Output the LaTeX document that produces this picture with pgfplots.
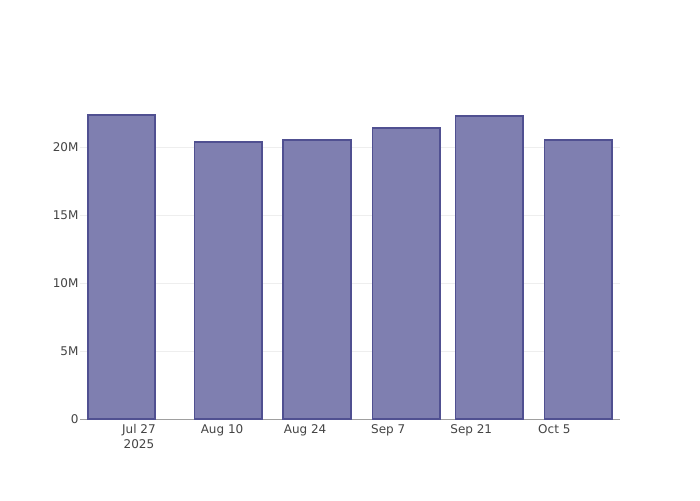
\documentclass[border=0pt]{standalone}
\usepackage{fontspec}
\setmainfont{DejaVu Sans}
\usepackage{pgfplots}
\pgfplotsset{compat=1.18}
\definecolor{barfill}{RGB}{127,127,176}
\definecolor{baredge}{RGB}{80,80,145}
\definecolor{axgray}{RGB}{160,160,160}
\definecolor{gridc}{RGB}{238,238,238}
\definecolor{txt}{RGB}{68,68,68}
\begin{document}
\begin{tikzpicture}[x=1pt,y=1pt]
\path[fill=white] (0,0) rectangle (700,500);
\begin{axis}[
  at={(80pt,80.7pt)}, anchor=south west,
  scale only axis, width=540pt, height=319.3pt,
  xmin=-9.94, xmax=81.07,
  ymin=0, ymax=23480000,
  axis x line*=bottom, axis y line*=left,
  x axis line style={draw=axgray, line width=1pt, -},
  y axis line style={draw=none},
  ytick={0,5000000,10000000,15000000,20000000},
  yticklabels={0,5M,10M,15M,20M},
  scaled y ticks=false,
  xtick={0,14,28,42,56,70},
  xticklabels={{Jul 27\\2025},Aug 10,Aug 24,Sep 7,Sep 21,Oct 5},
  xticklabel style={align=center, font=\fontsize{12}{15}\selectfont, text=txt, yshift=-2pt},
  yticklabel style={font=\fontsize{12}{15}\selectfont, text=txt, xshift=2pt},
  major tick length=0pt,
  ymajorgrids, grid style={draw=gridc, line width=1pt},
  ytick style={draw=none}, xtick style={draw=none},
  ybar, bar width=11.39,
  clip=false,
]
\addplot[fill=barfill, draw=baredge, line width=1.8pt] coordinates {
  (-2.95,22350000) (15.05,20370000) (30.0,20540000) (45.05,21400000) (59.05,22330000) (74.05,20510000)
};
\end{axis}
\end{tikzpicture}
\end{document}
